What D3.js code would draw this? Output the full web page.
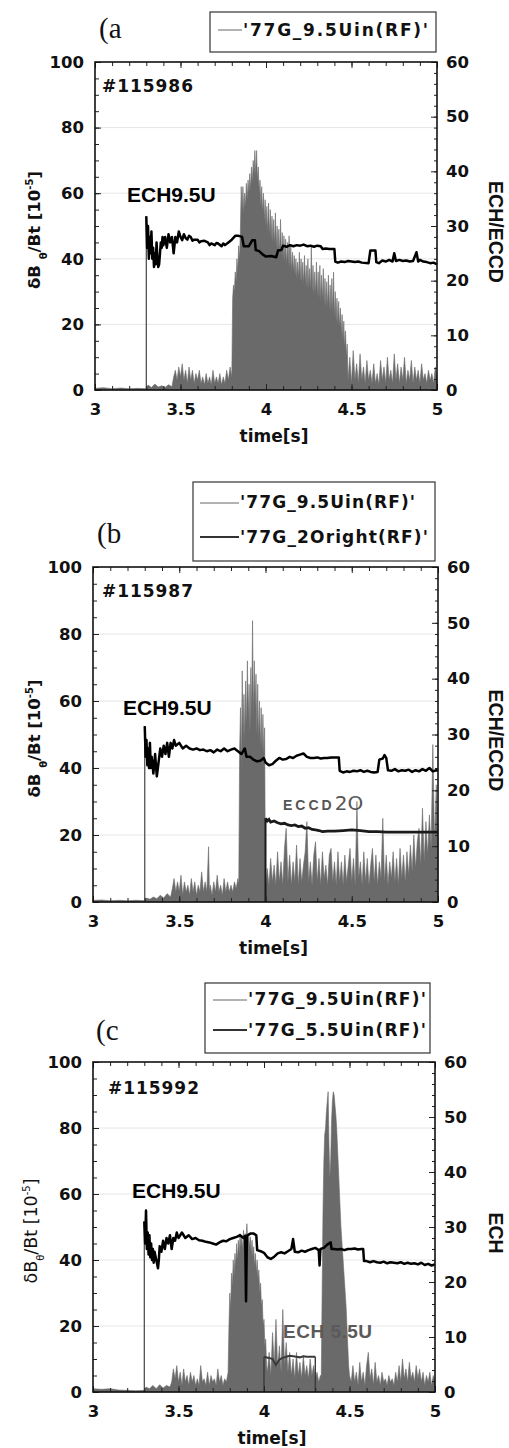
<!DOCTYPE html>
<html>
<head>
<meta charset="utf-8">
<script src="https://cdn.jsdelivr.net/npm/d3@7"></script>
<style>
body { margin: 0; background: #fff; }
svg { display: block; }
</style>
</head>
<body>
<svg id="fig" width="509" height="1448"></svg>
<script>
const timeTicks = [3, 3.5, 4, 4.5, 5];
const leftTicks = [0, 20, 40, 60, 80, 100];
const rightTicks = [0, 10, 20, 30, 40, 50, 60];
const gridTicks = [20, 40, 60, 80];

const shotNames = ['#115986', '#115987', '#115992'];
const panelTags = ['(a', '(b', '(c'];
const rightTitles = ['ECH/ECCD', 'ECH/ECCD', 'ECH'];
const legendA = ["'77G_9.5Uin(RF)'"];
const legendB = ["'77G_9.5Uin(RF)'", "'77G_2Oright(RF)'"];
const legendC = ["'77G_9.5Uin(RF)'", "'77G_5.5Uin(RF)'"];

// dB_theta/Bt [1e-5], pairs [time s, value]
const dBa = [
  [3.00,0.5],[3.05,0.7],[3.10,0.4],[3.15,0.6],[3.20,0.4],[3.25,0.5],[3.30,0.4],
  [3.31,1.5],[3.33,0.8],[3.35,1.8],[3.37,0.9],[3.39,1.3],[3.41,0.8],[3.43,1.6],[3.45,1.0],
  [3.46,4],[3.47,6],[3.48,3],[3.49,7],[3.50,4],[3.51,8],[3.52,3],[3.53,6],[3.54,2],[3.55,7],
  [3.56,3],[3.57,6],[3.58,2],[3.59,5],[3.60,3],[3.61,6],[3.62,2],[3.63,4],[3.64,1.5],[3.65,5],
  [3.66,2],[3.67,4],[3.68,1.5],[3.69,6],[3.70,2],[3.71,4],[3.72,2],[3.73,5],[3.74,1.5],[3.75,4],
  [3.76,2],[3.77,6],[3.78,3],[3.79,7],[3.80,4],
  [3.805,28],[3.81,32],[3.815,30],[3.82,36],[3.825,33],[3.83,40],[3.835,36],[3.84,44],[3.845,40],
  [3.85,48],[3.855,62],[3.86,55],[3.865,62],[3.87,54],[3.875,60],[3.88,56],[3.885,63],[3.89,58],
  [3.895,64],[3.90,60],[3.905,66],[3.91,61],[3.915,68],[3.92,63],[3.925,70],[3.93,66],[3.935,73],
  [3.94,65],[3.945,73],[3.95,64],[3.955,68],[3.96,60],[3.965,64],[3.97,56],[3.975,62],[3.98,54],
  [3.985,60],[3.99,52],[3.995,58],[4.00,50],[4.005,56],[4.01,48],[4.015,57],[4.02,47],[4.025,55],
  [4.03,46],[4.035,53],[4.04,45],[4.045,52],[4.05,44],[4.055,54],[4.06,43],[4.065,50],[4.07,42],
  [4.075,49],[4.08,41],[4.085,52],[4.09,40],[4.095,48],[4.10,40],[4.105,47],[4.11,39],[4.115,46],
  [4.12,38],[4.125,45],[4.13,38],[4.135,47],[4.14,37],[4.145,44],[4.15,36],[4.155,42],[4.16,36],
  [4.165,41],[4.17,35],[4.175,40],[4.18,34],[4.185,39],[4.19,34],[4.195,42],[4.20,33],[4.205,40],
  [4.21,33],[4.215,39],[4.22,32],[4.225,41],[4.23,32],[4.235,38],[4.24,31],[4.245,40],[4.25,31],
  [4.255,37],[4.26,30],[4.265,44],[4.27,30],[4.275,38],[4.28,29],[4.285,36],[4.29,29],[4.295,39],
  [4.30,28],[4.305,36],[4.31,28],[4.315,38],[4.32,27],[4.325,35],[4.33,27],[4.335,37],[4.34,26],
  [4.345,34],[4.35,25],[4.355,33],[4.36,25],[4.365,35],[4.37,24],[4.375,32],[4.38,24],[4.385,34],
  [4.39,23],[4.395,36],[4.40,22],[4.405,30],[4.41,21],[4.415,28],[4.42,20],[4.425,27],[4.43,19],
  [4.435,25],[4.44,17],[4.445,23],[4.45,15],[4.455,21],[4.46,13],[4.465,18],[4.47,10],[4.475,14],
  [4.48,3],[4.49,10],[4.50,2],[4.51,12],[4.52,3],[4.53,8],[4.54,2],[4.55,11],[4.56,3],[4.57,7],
  [4.58,2],[4.59,9],[4.60,3],[4.61,6],[4.62,2],[4.63,8],[4.64,2],[4.65,5],[4.66,1.5],[4.67,9],
  [4.68,3],[4.69,7],[4.70,2],[4.71,10],[4.72,3],[4.73,6],[4.74,2],[4.75,11],[4.76,3],[4.77,8],
  [4.78,2],[4.79,7],[4.80,3],[4.81,10],[4.82,2],[4.83,6],[4.84,3],[4.85,9],[4.86,2],[4.87,7],
  [4.88,3],[4.89,6],[4.90,2],[4.91,8],[4.92,3],[4.93,5],[4.94,2],[4.95,6],[4.96,3],[4.97,5],
  [4.98,2],[4.99,7],[5.00,4]
];

const dBb = [
  [3.00,0.5],[3.05,0.6],[3.10,0.4],[3.15,0.5],[3.20,0.4],[3.25,0.5],[3.30,0.4],
  [3.31,1.2],[3.33,0.8],[3.35,1.5],[3.37,1.0],[3.39,2.0],[3.41,1.2],[3.43,2.5],[3.45,1.5],
  [3.46,4],[3.47,7],[3.48,3],[3.49,6],[3.50,3],[3.51,8],[3.52,2],[3.53,6],[3.54,3],[3.55,5],
  [3.56,2],[3.57,7],[3.58,3],[3.59,6],[3.60,2],[3.61,5],[3.62,3],[3.63,9],[3.64,3],[3.65,6],
  [3.66,3],[3.67,16.5],[3.675,3],[3.68,5],[3.69,2],[3.70,6],[3.71,3],[3.72,8],[3.73,3],[3.74,5],
  [3.75,2],[3.76,7],[3.77,3],[3.78,6],[3.79,3],[3.80,5],[3.81,3],[3.82,6],[3.83,4],[3.84,7],[3.845,5],
  [3.85,45],[3.855,58],[3.86,40],[3.865,69],[3.87,50],[3.875,62],[3.88,48],[3.885,66],[3.89,52],
  [3.895,72],[3.90,55],[3.905,65],[3.91,50],[3.915,70],[3.92,56],[3.925,84],[3.93,55],[3.935,72],
  [3.94,58],[3.945,68],[3.95,50],[3.955,65],[3.96,48],[3.965,60],[3.97,46],[3.975,58],[3.98,45],
  [3.985,56],[3.99,44],[3.995,52],[4.00,3],
  [4.01,10],[4.02,5],[4.03,13],[4.04,6],[4.05,11],[4.06,5],[4.07,15],[4.08,6],[4.09,12],[4.10,5],
  [4.11,16],[4.12,22],[4.13,6],[4.14,14],[4.15,5],[4.16,12],[4.17,6],[4.18,17],[4.19,5],[4.20,13],
  [4.21,6],[4.22,11],[4.23,15],[4.24,24],[4.25,6],[4.26,12],[4.27,5],[4.28,14],[4.29,18],[4.30,6],
  [4.31,13],[4.32,5],[4.33,15],[4.34,7],[4.35,11],[4.36,5],[4.37,14],[4.38,16],[4.39,6],[4.40,12],
  [4.41,5],[4.42,15],[4.43,6],[4.44,12],[4.45,5],[4.46,14],[4.47,6],[4.48,11],[4.49,16],[4.50,6],
  [4.51,13],[4.52,5],[4.53,30],[4.54,7],[4.55,12],[4.56,5],[4.57,15],[4.58,6],[4.59,13],[4.60,5],
  [4.61,11],[4.62,16],[4.63,6],[4.64,14],[4.65,5],[4.66,12],[4.67,7],[4.68,25],[4.69,6],[4.70,14],
  [4.71,5],[4.72,12],[4.73,7],[4.74,15],[4.75,6],[4.76,13],[4.77,5],[4.78,16],[4.79,7],[4.80,14],
  [4.81,6],[4.82,15],[4.83,8],[4.84,17],[4.85,9],[4.86,20],[4.87,10],[4.88,18],[4.89,22],[4.90,11],
  [4.91,28],[4.92,12],[4.93,24],[4.94,14],[4.95,26],[4.96,16],[4.97,47],[4.98,18],[4.99,35],[5.00,22]
];

const dBc = [
  [3.00,1.0],[3.05,0.8],[3.10,1.0],[3.15,0.6],[3.20,0.5],[3.25,0.4],[3.30,0.5],
  [3.31,1.5],[3.33,1.0],[3.35,2.0],[3.37,1.0],[3.39,2.2],[3.41,1.2],[3.43,2.0],[3.45,1.5],
  [3.46,3],[3.47,7],[3.48,4],[3.49,8],[3.50,3],[3.51,6],[3.52,2],[3.53,7],[3.54,3],[3.55,5],
  [3.56,2],[3.57,6],[3.58,3],[3.59,5],[3.60,2],[3.61,4],[3.62,2],[3.63,8],[3.64,3],[3.65,4],
  [3.66,2],[3.67,6],[3.68,2],[3.69,5],[3.70,3],[3.71,4],[3.72,2],[3.73,7],[3.74,3],[3.75,5],
  [3.76,2],[3.77,4],[3.78,3],[3.79,6],
  [3.795,20],[3.80,30],[3.805,25],[3.81,36],[3.815,32],[3.82,40],[3.825,35],[3.83,42],[3.835,38],
  [3.84,45],[3.845,40],[3.85,46],[3.855,42],[3.86,48],[3.865,44],[3.87,47],[3.875,43],[3.88,49],
  [3.885,45],[3.89,48],[3.895,46],[3.90,51],[3.905,45],[3.91,48],[3.915,44],[3.92,47],[3.925,42],
  [3.93,46],[3.935,41],[3.94,44],[3.945,38],[3.95,42],[3.955,36],[3.96,40],[3.965,34],[3.97,37],
  [3.975,30],[3.98,33],[3.985,26],[3.99,28],[3.995,20],[4.00,22],[4.005,14],[4.01,16],[4.015,8],
  [4.02,6],[4.03,12],[4.04,5],[4.05,18],[4.06,8],[4.07,22],[4.08,7],[4.09,14],[4.10,6],[4.11,25],
  [4.12,8],[4.13,15],[4.14,6],[4.15,12],[4.16,5],[4.17,10],[4.18,4],[4.19,12],[4.20,5],[4.21,9],
  [4.22,4],[4.23,11],[4.24,5],[4.25,8],[4.26,4],[4.27,10],[4.28,5],[4.29,8],[4.30,4],[4.31,6],
  [4.32,3],[4.33,5],[4.335,5],
  [4.34,30],[4.345,55],[4.35,70],[4.355,78],[4.36,80],[4.365,85],[4.37,88],[4.375,91],[4.38,75],
  [4.385,65],[4.39,70],[4.395,82],[4.40,88],[4.405,91],[4.41,90],[4.415,87],[4.42,84],[4.425,80],
  [4.43,74],[4.435,68],[4.44,62],[4.445,56],[4.45,50],[4.455,46],[4.46,42],[4.465,38],[4.47,34],
  [4.475,30],[4.48,26],[4.485,20],[4.49,14],[4.495,8],[4.50,5],
  [4.51,3],[4.52,8],[4.53,3],[4.54,6],[4.55,2],[4.56,9],[4.57,3],[4.58,6],[4.59,2],[4.60,8],
  [4.61,12],[4.62,4],[4.63,7],[4.64,2],[4.65,9],[4.66,3],[4.67,5],[4.68,2],[4.69,6],[4.70,3],
  [4.71,4],[4.72,2],[4.73,5],[4.74,3],[4.75,4],[4.76,2],[4.77,6],[4.78,3],[4.79,8],[4.80,3],
  [4.81,10],[4.82,4],[4.83,7],[4.84,3],[4.85,9],[4.86,4],[4.87,6],[4.88,3],[4.89,8],[4.90,4],
  [4.91,7],[4.92,3],[4.93,6],[4.94,2],[4.95,5],[4.96,3],[4.97,6],[4.98,2],[4.99,5],[5.00,3]
];

// ECH 9.5U power (right axis), from turn-on at 3.3 s
const ech95a = [
  [3.30,31.8],[3.305,26],[3.31,30],[3.315,24],[3.32,28],[3.325,25],[3.33,29],[3.335,24],[3.34,26],
  [3.345,22.5],[3.35,25],[3.355,23],[3.36,27],[3.365,24],[3.37,22.5],[3.375,23],[3.38,25],[3.385,27],
  [3.39,26],[3.395,28],[3.40,26.5],[3.41,28],[3.42,26],[3.43,28.5],[3.44,27],[3.45,28],[3.46,25],
  [3.47,28],[3.48,27],[3.49,29],[3.50,28],[3.51,27.4],[3.52,28.5],[3.53,27.8],[3.54,27.5],[3.55,28.2],
  [3.56,28],[3.57,27.3],[3.58,27.5],[3.60,27.5],[3.61,27.0],[3.62,27.2],[3.64,27.3],[3.66,27],
  [3.67,26.5],[3.68,26.8],[3.70,26.5],[3.71,26.9],[3.72,26.8],[3.74,26.3],[3.75,26.8],[3.76,26.5],
  [3.78,27],[3.80,27.5],[3.82,28.2],[3.84,28.2],[3.86,28],[3.87,26.3],[3.90,26.3],[3.92,27.4],
  [3.935,27.4],[3.94,25.6],[3.96,25.4],[3.98,24.8],[4.00,24.4],[4.03,24.5],[4.06,24.3],[4.07,25.5],
  [4.09,25.6],[4.10,26.4],[4.12,26.2],[4.14,26.5],[4.16,26.3],[4.18,26.5],[4.20,26.4],[4.22,26.6],
  [4.24,26.3],[4.26,26.4],[4.28,26.2],[4.30,26.4],[4.32,26.3],[4.33,25.8],[4.35,25.9],[4.37,25.8],
  [4.39,25.8],[4.40,25.8],[4.405,23.5],[4.42,23.3],[4.44,23.5],[4.46,23.4],[4.48,23.6],[4.50,23.5],
  [4.52,23.4],[4.54,23.5],[4.56,23.3],[4.60,23.2],[4.61,25.5],[4.64,25.5],[4.645,23.4],[4.66,23.2],
  [4.68,23.7],[4.70,23.5],[4.72,23.8],[4.74,23.5],[4.75,25],[4.76,23.6],[4.78,23.8],[4.80,23.6],
  [4.82,23.7],[4.84,23.5],[4.86,23.6],[4.88,25.2],[4.89,23.5],[4.90,23.8],[4.92,23.5],[4.94,23.4],
  [4.96,23.2],[4.98,23.3],[5.00,23]
];

const ech95b = [
  [3.30,31.5],[3.305,26],[3.31,29],[3.315,24.5],[3.32,27.5],[3.325,24],[3.33,28.5],[3.335,24],
  [3.34,26],[3.35,23],[3.36,26.5],[3.37,22.5],[3.38,25],[3.39,27.5],[3.40,26],[3.41,28],[3.42,26.5],
  [3.43,28.5],[3.44,26],[3.45,28.5],[3.46,27.5],[3.47,29],[3.48,28],[3.50,28.5],[3.52,27.5],
  [3.54,28],[3.56,27.5],[3.58,27.3],[3.60,27.5],[3.62,27.2],[3.64,27.3],[3.66,27],[3.68,27.2],
  [3.70,26.8],[3.72,27.3],[3.74,27],[3.76,27.5],[3.78,27],[3.80,27.3],[3.82,27.5],[3.84,27],
  [3.86,26.5],[3.88,27.5],[3.89,26],[3.91,26],[3.93,25.5],[3.95,25.2],[3.97,25.3],[3.99,25.8],
  [4.00,25],[4.02,24.5],[4.04,24.7],[4.06,25.3],[4.08,25.8],[4.10,25.5],[4.12,25.6],[4.14,26],
  [4.16,25.8],[4.18,26.2],[4.20,26.4],[4.22,26.6],[4.24,26],[4.26,25.8],[4.28,25.8],[4.30,25.9],
  [4.32,25.7],[4.34,25.8],[4.36,25.8],[4.38,25.9],[4.40,25.9],[4.425,25.9],[4.43,23.5],[4.45,23.2],
  [4.47,23.4],[4.49,23.3],[4.51,23.5],[4.53,23.4],[4.55,23.6],[4.57,23.3],[4.59,23.5],[4.61,23.3],
  [4.63,23.2],[4.65,23.3],[4.66,25.5],[4.68,25.7],[4.69,26.3],[4.70,25.8],[4.71,23.6],[4.73,23.5],
  [4.75,23.8],[4.77,23.4],[4.79,23.6],[4.81,23.5],[4.83,23.7],[4.85,23.3],[4.87,23.6],[4.89,23.4],
  [4.91,23.8],[4.93,23.5],[4.95,24],[4.97,23.4],[4.99,23.6],[5.00,23.5]
];

const ech95c = [
  [3.30,31],[3.305,27],[3.31,33],[3.315,26],[3.32,29],[3.325,25],[3.33,28.5],[3.335,24.5],[3.34,27],
  [3.345,24],[3.35,26],[3.355,23.5],[3.36,25.5],[3.37,24],[3.38,22.5],[3.385,24],[3.39,26.5],
  [3.40,25.5],[3.41,27.5],[3.42,26],[3.43,28],[3.44,27],[3.45,28.5],[3.46,26],[3.47,28],[3.48,27.5],
  [3.49,29],[3.50,28],[3.52,29],[3.54,28],[3.56,28.5],[3.58,27.8],[3.60,28],[3.62,27.6],[3.64,27.5],
  [3.66,27.3],[3.68,27.2],[3.70,27],[3.72,26.8],[3.74,27.2],[3.76,27.5],[3.78,27.4],[3.80,27.8],
  [3.82,28],[3.84,28.2],[3.86,28.5],[3.88,28],[3.89,28.4],[3.895,16.5],[3.90,28.4],[3.92,28.8],
  [3.94,28.8],[3.955,28.5],[3.96,25.8],[3.98,25.6],[4.00,25.3],[4.02,24.5],[4.04,24.2],[4.06,24.6],
  [4.08,25.2],[4.10,25.4],[4.12,25.2],[4.14,25.6],[4.16,26],[4.17,27.8],[4.18,25.5],[4.20,25.4],
  [4.22,25.7],[4.24,25.5],[4.26,25.8],[4.28,26],[4.30,26.2],[4.32,25.8],[4.325,23],[4.33,26],
  [4.35,26.2],[4.37,26.8],[4.39,27.2],[4.395,26],[4.41,26],[4.43,25.9],[4.45,26],[4.47,25.8],
  [4.49,26],[4.51,26],[4.53,26.1],[4.55,25.9],[4.57,26],[4.58,26],[4.585,23.8],[4.60,23.8],
  [4.62,23.6],[4.64,23.8],[4.66,23.6],[4.68,23.5],[4.70,23.7],[4.72,23.4],[4.74,23.6],[4.76,23.5],
  [4.78,23.4],[4.80,23.6],[4.82,23.3],[4.84,23.5],[4.86,23.3],[4.88,23.4],[4.90,23.2],[4.92,23.5],
  [4.94,23.1],[4.96,23.3],[4.98,23],[5.00,23.2]
];

// ECCD 2O (shot 115987) and ECH 5.5U (shot 115992), right axis
const eccd2Ob = [
  [4.00,15],[4.01,14.5],[4.02,14.8],[4.03,14.3],[4.05,14.5],[4.07,14.2],[4.09,14],[4.11,14.1],
  [4.13,13.8],[4.15,13.7],[4.17,13.8],[4.19,13.5],[4.21,13.6],[4.23,13.2],[4.25,13.3],[4.27,13],
  [4.29,12.9],[4.31,12.8],[4.33,12.6],[4.36,12.7],[4.40,12.7],[4.45,12.8],[4.50,12.9],[4.55,12.8],
  [4.60,12.6],[4.65,12.6],[4.70,12.5],[4.80,12.5],[4.90,12.5],[5.00,12.5]
];

const ech55c = [
  [4.00,6.4],[4.01,6.3],[4.03,6.2],[4.05,6.0],[4.07,4.9],[4.08,5.4],[4.09,5.9],[4.11,6.2],
  [4.13,6.4],[4.15,6.6],[4.17,6.5],[4.19,6.4],[4.21,6.3],[4.23,6.5],[4.25,6.4],[4.27,6.4],[4.30,6.4]
];

const panels = [
  { l: 95, r: 437, t: 62, b: 390, dB: dBa, ech: ech95a, extra: null, extraFall: false,
    legend: legendA, box: [210, 12, 436, 52], legX: [218, 243], legY: [30], legTextY: [36], legW: [185],
    tag: [99, 38], shot: [102, 92], ech95Label: [127, 202], leftBold: true,
    extraLabel: null },
  { l: 93, r: 438, t: 567, b: 902, dB: dBb, ech: ech95b, extra: eccd2Ob, extraFall: false,
    legend: legendB, box: [193, 482, 435, 561], legX: [200, 240], legY: [503, 537], legTextY: [508, 543], legW: [175, 188],
    tag: [97, 543], shot: [102, 597], ech95Label: [123, 715], leftBold: true,
    extraLabel: 'eccd' },
  { l: 93, r: 435, t: 1062, b: 1392, dB: dBc, ech: ech95c, extra: ech55c, extraFall: true,
    legend: legendC, box: [205, 983, 430, 1053], legX: [213, 248], legY: [1000, 1030], legTextY: [1005, 1036], legW: [178, 178],
    tag: [96, 1040], shot: [108, 1094], ech95Label: [132, 1198], leftBold: false,
    extraLabel: 'ech55' }
];

const svg = d3.select('#fig');
const sans = '"DejaVu Sans", sans-serif';
const arial = '"Liberation Sans", Arial, sans-serif';

panels.forEach((p, i) => drawPanel(p, i));

function drawPanel(p, i) {
  const g = svg.append('g');
  const x = d3.scaleLinear().domain([3, 5]).range([p.l, p.r]);
  const yL = d3.scaleLinear().domain([0, 100]).range([p.b, p.t]);
  const yR = d3.scaleLinear().domain([0, 60]).range([p.b, p.t]);

  // faint grid
  g.selectAll('.grid').data(gridTicks).enter().append('line')
    .attr('x1', p.l).attr('x2', p.r)
    .attr('y1', d => yL(d)).attr('y2', d => yL(d))
    .attr('stroke', '#e6e6e6').attr('stroke-width', 1);

  // fluctuation signal
  const area = d3.area().x(d => x(d[0])).y0(yL(0)).y1(d => yL(d[1]));
  g.append('path').datum(p.dB).attr('d', area)
    .attr('fill', '#6a6a6a').attr('stroke', '#6a6a6a').attr('stroke-width', 0.6)
    .attr('stroke-linejoin', 'miter');

  const rline = d3.line().x(d => x(d[0])).y(d => yR(d[1]));

  // ECH 9.5U turn-on and trace
  const e0 = p.ech[0];
  g.append('path').datum([[e0[0], 0], e0]).attr('d', rline)
    .attr('stroke', '#444').attr('stroke-width', 1.2).attr('fill', 'none');
  g.append('path').datum(p.ech).attr('d', rline)
    .attr('stroke', '#000').attr('stroke-width', 2.5).attr('fill', 'none')
    .attr('stroke-linejoin', 'round');

  if (p.extra) {
    const s0 = p.extra[0];
    const sN = p.extra[p.extra.length - 1];
    const col = p.extraFall ? '#3a3a3a' : '#1a1a1a';
    g.append('path').datum([[s0[0], 0], s0]).attr('d', rline)
      .attr('stroke', col).attr('stroke-width', p.extraFall ? 1.4 : 2).attr('fill', 'none');
    if (p.extraFall) {
      g.append('path').datum([sN, [sN[0], 0]]).attr('d', rline)
        .attr('stroke', col).attr('stroke-width', 1.4).attr('fill', 'none');
    }
    g.append('path').datum(p.extra).attr('d', rline)
      .attr('stroke', col).attr('stroke-width', p.extraFall ? 2 : 2.8).attr('fill', 'none');
  }

  // axes, ticks inward
  const fmt = d => d;
  const bottom = g.append('g').attr('transform', `translate(0,${p.b})`)
    .call(d3.axisBottom(x).tickValues(timeTicks).tickFormat(fmt).tickSize(-6).tickPadding(13));
  g.append('g').attr('transform', `translate(0,${p.b})`)
    .call(d3.axisBottom(x).ticks(20).tickFormat('').tickSize(-4));
  g.append('g').attr('transform', `translate(0,${p.t})`)
    .call(d3.axisTop(x).tickValues(timeTicks).tickFormat('').tickSize(-6));
  g.append('g').attr('transform', `translate(0,${p.t})`)
    .call(d3.axisTop(x).ticks(20).tickFormat('').tickSize(-4));
  const left = g.append('g').attr('transform', `translate(${p.l},0)`)
    .call(d3.axisLeft(yL).tickValues(leftTicks).tickSize(-6).tickPadding(11));
  g.append('g').attr('transform', `translate(${p.l},0)`)
    .call(d3.axisLeft(yL).ticks(20).tickFormat('').tickSize(-4));
  const right = g.append('g').attr('transform', `translate(${p.r},0)`)
    .call(d3.axisRight(yR).tickValues(rightTicks).tickSize(-6).tickPadding(9));
  g.append('g').attr('transform', `translate(${p.r},0)`)
    .call(d3.axisRight(yR).ticks(30).tickFormat('').tickSize(-3));

  g.selectAll('.domain').remove();
  g.selectAll('.tick line').attr('stroke', '#222');
  [bottom, left, right].forEach(a => a.selectAll('text')
    .attr('font-family', sans).attr('font-weight', 'bold')
    .attr('font-size', 16.5).attr('fill', '#111'));

  g.append('rect').attr('x', p.l).attr('y', p.t)
    .attr('width', p.r - p.l).attr('height', p.b - p.t)
    .attr('fill', 'none').attr('stroke', '#111').attr('stroke-width', 1.6);

  // axis titles
  g.append('text').attr('x', (p.l + p.r) / 2 + 8).attr('y', p.b + 52)
    .attr('text-anchor', 'middle').attr('font-family', sans).attr('font-weight', 'bold')
    .attr('font-size', 17).attr('fill', '#111').text('time[s]');

  const ly = g.append('text')
    .attr('transform', `translate(${p.leftBold ? 40 : 37},${(p.t + p.b) / 2 + 4}) rotate(-90)`)
    .attr('text-anchor', 'middle').attr('font-family', sans)
    .attr('font-weight', p.leftBold ? 'bold' : 'normal')
    .attr('font-size', p.leftBold ? 16.5 : 17.5).attr('fill', '#111');
  ly.append('tspan').text(p.leftBold ? 'δB ' : 'δB');
  ly.append('tspan').attr('dy', 7).attr('font-size', 10).text('θ');
  ly.append('tspan').attr('dy', -7).text('/Bt [10');
  ly.append('tspan').attr('dy', -7).attr('font-size', 10).text('-5');
  ly.append('tspan').attr('dy', 7).text(']');

  g.append('text')
    .attr('transform', `translate(489,${(p.t + p.b) / 2 + 6}) rotate(90)`)
    .attr('text-anchor', 'middle').attr('font-family', arial).attr('font-weight', 'bold')
    .attr('font-size', 19.5).attr('fill', '#111').text(rightTitles[i]);

  // panel tag, shot number, labels
  svg.append('text').attr('x', p.tag[0]).attr('y', p.tag[1])
    .attr('font-family', '"Liberation Serif", "Times New Roman", serif')
    .attr('font-size', 29).attr('fill', '#111').text(panelTags[i]);
  g.append('text').attr('x', p.shot[0]).attr('y', p.shot[1])
    .attr('font-family', sans).attr('font-weight', 'bold').attr('font-size', 17)
    .attr('textLength', 91).attr('lengthAdjust', 'spacing')
    .attr('fill', '#111').text(shotNames[i]);
  g.append('text').attr('x', p.ech95Label[0]).attr('y', p.ech95Label[1])
    .attr('font-family', arial).attr('font-weight', 'bold').attr('font-size', 21)
    .attr('fill', '#000').text('ECH9.5U');

  if (p.extraLabel === 'eccd') {
    const t = g.append('text').attr('x', 283).attr('y', 810).attr('fill', '#555');
    t.append('tspan').attr('font-family', arial).attr('font-weight', 'bold')
      .attr('font-size', 14).attr('letter-spacing', 3).text('ECCD');
    t.append('tspan').attr('font-family', sans).attr('font-size', 20).text('2O');
  }
  if (p.extraLabel === 'ech55') {
    g.append('text').attr('x', 283).attr('y', 1338)
      .attr('font-family', arial).attr('font-weight', 'bold').attr('font-size', 19)
      .attr('textLength', 89).attr('lengthAdjust', 'spacing')
      .attr('fill', '#5a5a5a').text('ECH 5.5U');
  }

  // legend
  const b = p.box;
  svg.append('rect').attr('x', b[0]).attr('y', b[1])
    .attr('width', b[2] - b[0]).attr('height', b[3] - b[1])
    .attr('fill', '#fff').attr('stroke', '#333').attr('stroke-width', 1.2);
  p.legend.forEach((name, k) => {
    svg.append('line').attr('x1', p.legX[0]).attr('x2', p.legX[1] - 1)
      .attr('y1', p.legY[k]).attr('y2', p.legY[k])
      .attr('stroke', k === 0 ? '#666' : '#333').attr('stroke-width', k === 0 ? 1 : 2.2);
    svg.append('text').attr('x', p.legX[1]).attr('y', p.legTextY[k])
      .attr('font-family', sans).attr('font-weight', 'bold').attr('font-size', 17)
      .attr('textLength', p.legW[k]).attr('lengthAdjust', 'spacing')
      .attr('fill', '#111').text(name);
  });
}
</script>
</body>
</html>
